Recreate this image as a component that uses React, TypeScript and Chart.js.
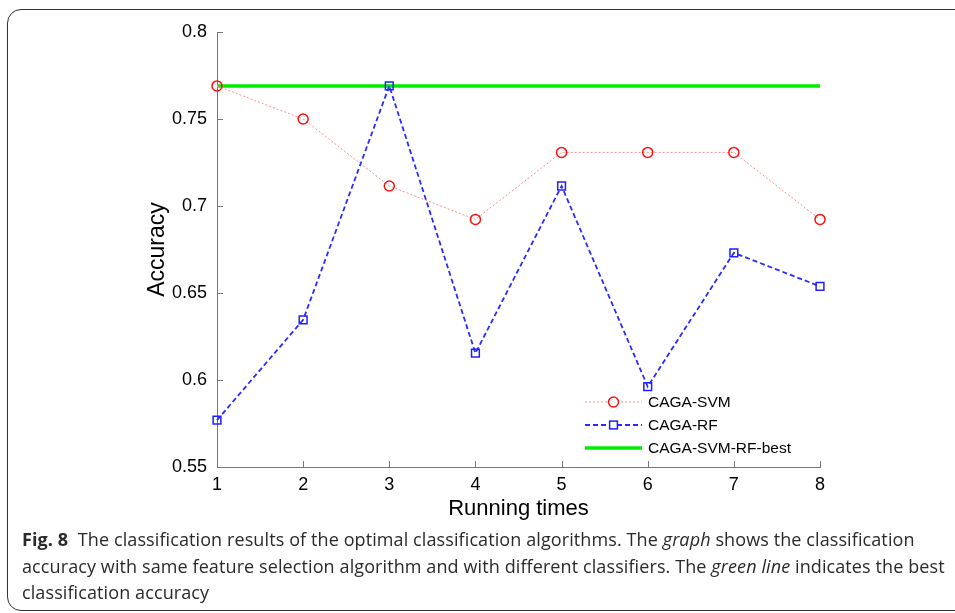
import React, { useEffect, useRef } from 'react';
import { Chart, registerables } from 'chart.js';

Chart.register(...registerables);

const runs = ['1', '2', '3', '4', '5', '6', '7', '8'];
const svmAcc = [0.769, 0.75, 0.7115, 0.6923, 0.7308, 0.7308, 0.7308, 0.6923];
const rfAcc = [0.5769, 0.6346, 0.769, 0.6154, 0.7115, 0.5962, 0.6731, 0.6538];
const bestAcc = [0.769, 0.769, 0.769, 0.769, 0.769, 0.769, 0.769, 0.769];
const yTickValues = [0.55, 0.6, 0.65, 0.7, 0.75, 0.8];
const legendLabels = ['CAGA-SVM', 'CAGA-RF', 'CAGA-SVM-RF-best'];

const AXIS_FONT = "'Liberation Sans', Arial, sans-serif";

const inwardTicks = {
  id: 'inwardTicks',
  afterDraw(chart: any) {
    const { ctx, chartArea, scales } = chart;
    ctx.save();
    ctx.strokeStyle = '#777';
    ctx.lineWidth = 1;
    const xs = scales.x;
    xs.ticks.forEach((_: any, i: number) => {
      const px = Math.round(xs.getPixelForTick(i)) + 0.5;
      ctx.beginPath();
      ctx.moveTo(px, chartArea.bottom);
      ctx.lineTo(px, chartArea.bottom - 6);
      ctx.stroke();
    });
    const ys = scales.y;
    yTickValues.forEach((v) => {
      const py = Math.round(ys.getPixelForValue(v)) + 0.5;
      ctx.beginPath();
      ctx.moveTo(chartArea.left, py);
      ctx.lineTo(chartArea.left + 6, py);
      ctx.stroke();
    });
    ctx.restore();
  },
};

const insideLegend = {
  id: 'insideLegend',
  afterDraw(chart: any) {
    const { ctx, chartArea } = chart;
    const x0 = chartArea.right - 235;
    const x1 = x0 + 57;
    const y0 = chartArea.bottom - 65;
    const gap = 23;
    ctx.save();
    chart.data.datasets.forEach((ds: any, i: number) => {
      const y = y0 + i * gap;
      ctx.save();
      ctx.strokeStyle = ds.borderColor;
      ctx.lineWidth = ds.borderWidth;
      ctx.setLineDash(ds.borderDash || []);
      ctx.beginPath();
      ctx.moveTo(x0, y);
      ctx.lineTo(x1, y);
      ctx.stroke();
      ctx.restore();
      if (ds.pointRadius > 0) {
        ctx.save();
        ctx.strokeStyle = ds.pointBorderColor;
        ctx.lineWidth = ds.pointBorderWidth;
        ctx.fillStyle = '#fff';
        const cx = (x0 + x1) / 2;
        if (ds.pointStyle === 'rect') {
          const s = ds.pointRadius * Math.SQRT1_2;
          ctx.fillRect(cx - s, y - s, 2 * s, 2 * s);
          ctx.strokeRect(cx - s, y - s, 2 * s, 2 * s);
        } else {
          ctx.beginPath();
          ctx.arc(cx, y, ds.pointRadius, 0, Math.PI * 2);
          ctx.fill();
          ctx.stroke();
        }
        ctx.restore();
      }
      ctx.fillStyle = '#000';
      ctx.font = `15.5px ${AXIS_FONT}`;
      ctx.textBaseline = 'middle';
      ctx.fillText(legendLabels[i], x1 + 6, y + 1);
    });
    ctx.restore();
  },
};

export default function App() {
  const canvasRef = useRef<HTMLCanvasElement | null>(null);

  useEffect(() => {
    const canvas = canvasRef.current;
    if (!canvas) return;
    const chart = new Chart(canvas, {
      type: 'line',
      data: {
        labels: runs,
        datasets: [
          {
            label: legendLabels[0],
            data: svmAcc,
            borderColor: '#ff8c8c',
            borderWidth: 1,
            borderDash: [2, 2],
            pointStyle: 'circle',
            pointRadius: 5,
            pointBorderColor: '#ff1010',
            pointBorderWidth: 1.5,
            pointBackgroundColor: 'rgba(255,255,255,0)',
            tension: 0,
            order: 1,
          },
          {
            label: legendLabels[1],
            data: rfAcc,
            borderColor: '#2b2bff',
            borderWidth: 1.8,
            borderDash: [5, 3],
            pointStyle: 'rect',
            pointRadius: 5.5,
            pointBorderColor: '#2020ff',
            pointBorderWidth: 1.5,
            pointBackgroundColor: 'rgba(255,255,255,0)',
            tension: 0,
            order: 0,
          },
          {
            label: legendLabels[2],
            data: bestAcc,
            borderColor: '#00ee00',
            borderWidth: 3.5,
            pointRadius: 0,
            tension: 0,
            order: 2,
          },
        ],
      },
      options: {
        animation: false,
        responsive: false,
        maintainAspectRatio: false,
        layout: { padding: { left: 140, right: 135, top: 32, bottom: 0 } },
        plugins: {
          legend: { display: false },
          tooltip: { enabled: false },
        },
        scales: {
          x: {
            type: 'category',
            offset: false,
            grid: { display: false, drawTicks: false },
            border: { display: true, color: '#777', width: 1 },
            afterFit: (scale: any) => {
              scale.height = 63;
            },
            ticks: {
              color: '#000',
              font: { family: AXIS_FONT, size: 18 },
              padding: 7,
              maxRotation: 0,
              autoSkip: false,
            },
            title: {
              display: true,
              text: 'Running times',
              color: '#000',
              font: { family: AXIS_FONT, size: 22 },
              padding: { top: 0, bottom: 8 },
            },
          },
          y: {
            min: 0.55,
            max: 0.8,
            grid: { display: false, drawTicks: false },
            border: { display: true, color: '#777', width: 1 },
            afterFit: (scale: any) => {
              scale.width = 77;
            },
            afterBuildTicks: (scale: any) => {
              scale.ticks = yTickValues.map((v) => ({ value: v }));
            },
            ticks: {
              color: '#000',
              font: { family: AXIS_FONT, size: 18 },
              padding: 10,
              callback: (v: any) => String(+Number(v).toFixed(2)),
            },
            title: {
              display: true,
              text: 'Accuracy',
              color: '#000',
              font: { family: AXIS_FONT, size: 23 },
              padding: { top: 4, bottom: 4 },
            },
          },
        },
      },
      plugins: [inwardTicks, insideLegend],
    });
    return () => chart.destroy();
  }, []);

  return (
    <div
      style={{
        position: 'absolute',
        left: 0,
        top: 0,
        width: 955,
        height: 613,
        overflow: 'hidden',
        background: '#fff',
      }}
    >
      <div
        style={{
          position: 'absolute',
          left: 7,
          top: 9,
          width: 980,
          height: 602,
          border: '1.5px solid #333',
          borderRadius: 14,
          boxSizing: 'border-box',
        }}
      />
      <canvas
        ref={canvasRef}
        width={955}
        height={530}
        style={{ position: 'absolute', left: 0, top: 0, width: 955, height: 530 }}
      />
      <div
        style={{
          position: 'absolute',
          left: 22,
          top: 526,
          whiteSpace: 'nowrap',
          fontFamily: "'Open Sans', 'Noto Sans', sans-serif",
          fontSize: 18,
          letterSpacing: '0.1px',
          lineHeight: '26.5px',
          color: '#2a2a2a',
        }}
      >
        <b>Fig. 8</b>&nbsp; The classification results of the optimal classification algorithms. The <i>graph</i> shows the classification
        <br />
        accuracy with same feature selection algorithm and with different classifiers. The <i>green line</i> indicates the best
        <br />
        classification accuracy
      </div>
    </div>
  );
}
